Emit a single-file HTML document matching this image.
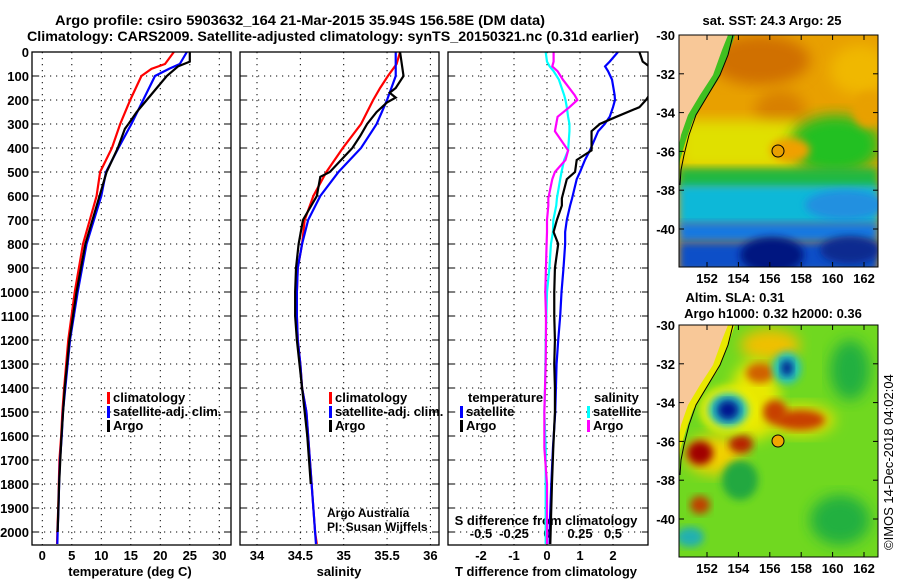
<!DOCTYPE html>
<html><head><meta charset="utf-8"><style>
body{margin:0;background:#fff;}
svg{display:block;font-family:"Liberation Sans",sans-serif;}
.t{font-weight:bold;font-size:13px;fill:#000;}
.ti{font-weight:bold;font-size:14px;fill:#000;}
.grid{stroke:#000;stroke-width:1;stroke-dasharray:1.2,4.8;}
</style></head><body>
<svg id="chart" width="900" height="580" viewBox="0 0 900 580">
<defs>
<filter id="blur" x="-20%" y="-20%" width="140%" height="140%"><feGaussianBlur stdDeviation="7"/></filter>
<filter id="blur2" x="-20%" y="-20%" width="140%" height="140%"><feGaussianBlur stdDeviation="4"/></filter>
<clipPath id="cm1"><rect x="679" y="35" width="199" height="232"/></clipPath>
<clipPath id="cm2"><rect x="679" y="325" width="199" height="232"/></clipPath>
<clipPath id="cp3"><rect x="448" y="52" width="200" height="493"/></clipPath>
</defs>
<text class="ti" x="300" y="25" text-anchor="middle" textLength="490" lengthAdjust="spacingAndGlyphs">Argo profile: csiro 5903632_164 21-Mar-2015 35.94S 156.58E (DM data)</text>
<text class="ti" x="333" y="41" text-anchor="middle" textLength="612" lengthAdjust="spacingAndGlyphs">Climatology: CARS2009. Satellite-adjusted climatology: synTS_20150321.nc (0.31d earlier)</text>

<g id="maps">
<g clip-path="url(#cm1)">
<rect x="679" y="35" width="199" height="232" fill="#e8a000"/>
<ellipse cx="760" cy="60" rx="50" ry="25" fill="#d07000" filter="url(#blur)"/>
<ellipse cx="780" cy="110" rx="25" ry="20" fill="#d88000" filter="url(#blur)"/>
<ellipse cx="860" cy="70" rx="30" ry="25" fill="#f0b800" filter="url(#blur)"/>
<rect x="679" y="120" width="120" height="50" fill="#e0e000" filter="url(#blur)"/>
<ellipse cx="835" cy="145" rx="45" ry="30" fill="#20c020" filter="url(#blur)"/>
<ellipse cx="868" cy="110" rx="15" ry="18" fill="#e8a000" filter="url(#blur2)"/>
<ellipse cx="790" cy="150" rx="20" ry="12" fill="#f0a000" filter="url(#blur2)"/>
<rect x="679" y="168" width="199" height="22" fill="#20b840" filter="url(#blur2)"/>
<rect x="679" y="185" width="199" height="40" fill="#10b8d8" filter="url(#blur2)"/>
<ellipse cx="845" cy="205" rx="40" ry="15" fill="#2090e0" filter="url(#blur2)"/>
<rect x="679" y="222" width="199" height="20" fill="#1878e0" filter="url(#blur2)"/>
<rect x="679" y="242" width="199" height="30" fill="#1050c8" filter="url(#blur2)"/>
<ellipse cx="772" cy="255" rx="32" ry="18" fill="#001880" filter="url(#blur2)"/>
<ellipse cx="850" cy="250" rx="30" ry="14" fill="#0a2a90" filter="url(#blur2)"/>
<polygon points="679,35 735,35 728,55 718,80 705,100 693,120 686,140 680,160 679,175" fill="#40c020"/>
<polygon points="679,35 728,35 722,50 713,75 700,95 688,115 681,135 679,145" fill="#f8c898"/>
<polyline points="733,35 728,55 720,75 708,95 696,115 689,135 684,155 681,170 680,185" fill="none" stroke="#000" stroke-width="1"/>
</g>
<circle cx="778" cy="151" r="6" fill="#e8a000" stroke="#000" stroke-width="1"/>
<rect x="679" y="35" width="199" height="232" fill="none" stroke="#000" stroke-width="1"/>

<g clip-path="url(#cm2)">
<rect x="679" y="325" width="199" height="232" fill="#70d820"/>
<ellipse cx="770" cy="345" rx="30" ry="16" fill="#f0c000" filter="url(#blur)"/>
<ellipse cx="755" cy="400" rx="25" ry="40" fill="#e8e800" filter="url(#blur)"/>
<ellipse cx="760" cy="373" rx="14" ry="10" fill="#d06000" filter="url(#blur2)"/>
<ellipse cx="800" cy="420" rx="35" ry="16" fill="#e0e000" filter="url(#blur)"/>
<ellipse cx="800" cy="420" rx="25" ry="10" fill="#c84000" filter="url(#blur2)"/>
<ellipse cx="775" cy="412" rx="12" ry="12" fill="#c84000" filter="url(#blur2)"/>
<ellipse cx="715" cy="455" rx="30" ry="20" fill="#f0d000" filter="url(#blur)"/>
<ellipse cx="700" cy="453" rx="13" ry="12" fill="#a00000" filter="url(#blur2)"/>
<ellipse cx="741" cy="444" rx="12" ry="9" fill="#b82000" filter="url(#blur2)"/>
<ellipse cx="700" cy="505" rx="10" ry="9" fill="#c04000" filter="url(#blur2)"/>
<ellipse cx="740" cy="480" rx="18" ry="20" fill="#20a840" filter="url(#blur2)"/>
<ellipse cx="850" cy="370" rx="20" ry="30" fill="#20b040" filter="url(#blur)"/>
<ellipse cx="840" cy="520" rx="30" ry="25" fill="#20b040" filter="url(#blur)"/>
<ellipse cx="728" cy="410" rx="28" ry="24" fill="#f0f000" filter="url(#blur2)"/>
<ellipse cx="728" cy="410" rx="20" ry="17" fill="#20c0c0" filter="url(#blur2)"/>
<ellipse cx="728" cy="410" rx="11" ry="10" fill="#001890" filter="url(#blur2)"/>
<ellipse cx="787" cy="368" rx="14" ry="16" fill="#20c0c0" filter="url(#blur2)"/>
<ellipse cx="787" cy="368" rx="6" ry="8" fill="#002090" filter="url(#blur2)"/>
<ellipse cx="690" cy="537" rx="14" ry="10" fill="#20b0b0" filter="url(#blur2)"/>
<polygon points="679,325 735,325 728,345 718,370 705,390 693,410 686,430 680,450 679,465" fill="#e8e800"/>
<polygon points="679,325 728,325 722,340 713,365 700,385 688,405 681,425 679,435" fill="#f8c898"/>
<polyline points="733,325 728,345 720,365 708,385 696,405 689,425 684,445 681,460 680,475" fill="none" stroke="#000" stroke-width="1"/>
</g>
<circle cx="778" cy="441" r="6" fill="#f0a800" stroke="#000" stroke-width="1"/>
<rect x="679" y="325" width="199" height="232" fill="none" stroke="#000" stroke-width="1"/>
<text class="t" x="772" y="25" text-anchor="middle">sat. SST: 24.3 Argo: 25</text>
<text class="t" x="735" y="302" text-anchor="middle">Altim. SLA: 0.31</text>
<text class="t" x="773" y="318" text-anchor="middle">Argo h1000: 0.32 h2000: 0.36</text>
<text x="893" y="550" transform="rotate(-90 893 550)" style="font-size:13px">©IMOS 14-Dec-2018 04:02:04</text>
</g>
<g id="axes"></g>
</svg>
<script>
// Depth levels (dbar) and profiles
const depthT = [0,50,70,100,200,300,400,500,600,800,1000,1200,1400,1500,1600,1700,1800,1900,2000,2050];
const tempClim = [22.3,20.8,18.5,16.8,14.9,13.2,11.8,9.8,9.2,6.9,5.5,4.4,3.7,3.4,3.2,2.9,2.8,2.7,2.55,2.5];
const tempSat = [24.5,23.3,21.5,19.1,17.1,15.1,12.9,10.8,10.0,7.5,6.0,4.7,3.9,3.5,3.3,3.0,2.85,2.75,2.6,2.55];
const depthArgo = [0,40,60,100,150,200,250,300,320,400,500,600,800,1000,1200,1400,1600,1800,2000];
const tempArgo = [25,25,23,21.1,19.4,17.7,16,14.6,14,12.8,10.9,9.7,7.3,5.8,4.6,3.8,3.25,2.85,2.6];
const depthS = [0,50,100,150,200,300,400,500,600,700,800,900,1000,1100,1200,1300,1400,1500,1600,1700,1800,1900,2000,2050];
const salClim = [35.65,35.61,35.51,35.42,35.34,35.2,34.99,34.8,34.65,34.55,34.52,34.47,34.46,34.46,34.47,34.5,34.52,34.57,34.59,34.61,34.63,34.65,34.67,34.69];
const salSat = [35.6,35.6,35.6,35.55,35.5,35.38,35.2,34.94,34.73,34.59,34.52,34.47,34.46,34.46,34.47,34.5,34.52,34.57,34.59,34.61,34.63,34.65,34.67,34.68];
const depthSA = [0,50,100,150,170,190,210,250,300,350,400,500,520,600,700,800,900,1000,1100,1200,1400,1600,1800];
const salArgo = [35.65,35.67,35.69,35.6,35.53,35.6,35.5,35.38,35.27,35.19,35.1,34.84,34.73,34.69,34.53,34.48,34.45,34.44,34.44,34.46,34.52,34.58,34.62];
// Differences from climatology
const depthD = [0,40,60,80,115,180,200,230,270,300,330,410,450,500,530,610,640,700,750,800,900,1000,1100,1200,1300,1400,1500,1650,1800,1950,2050];
const dTsat = [2.15,1.9,1.76,1.85,1.97,2.05,2.06,2.0,1.9,1.75,1.55,1.3,1.15,1.0,0.9,0.76,0.7,0.6,0.55,0.55,0.5,0.44,0.4,0.34,0.29,0.27,0.25,0.18,0.13,0.09,0.08];
const dTargo = [2.8,2.9,3.1,3.2,3.2,3.1,3.0,2.8,2.1,1.6,1.35,1.35,0.9,0.85,0.6,0.45,0.45,0.3,0.2,0.34,0.24,0.22,0.22,0.24,0.22,0.24,0.24,0.19,0.15,0.12,0.1];
const dSsat = [-0.01,0.0,0.02,0.05,0.09,0.13,0.14,0.15,0.16,0.17,0.17,0.16,0.13,0.11,0.1,0.075,0.07,0.048,0.045,0.03,0.018,0.0,-0.005,-0.01,-0.012,-0.015,-0.02,-0.01,-0.01,-0.01,-0.01];
const dSargo = [0.05,0.05,0.04,0.08,0.12,0.21,0.23,0.17,0.08,0.07,0.06,0.16,0.14,0.06,0.04,0.01,0.01,0.0,0.0,-0.003,-0.008,-0.013,-0.008,-0.008,-0.01,-0.015,-0.02,-0.02,0.0,0.0,0.0];
const depthTicks = [0,100,200,300,400,500,600,700,800,900,1000,1100,1200,1300,1400,1500,1600,1700,1800,1900,2000];
const tempTicks = [0,5,10,15,20,25,30];
const salTicks = [34,34.5,35,35.5,36];
const salTickLabels = ["34","34.5","35","35.5","36"];
const dTTicks = [-2,-1,0,1,2];
const dSTicks = [-0.5,-0.25,0,0.25,0.5];
const dSTickLabels = ["-0.5","-0.25","0","0.25","0.5"];
const latTicks = [-30,-32,-34,-36,-38,-40];
const lonTicks = [152,154,156,158,160,162];

const NS="http://www.w3.org/2000/svg";
const g=document.getElementById('axes');
function el(t,a,p){const e=document.createElementNS(NS,t);for(const k in a)e.setAttribute(k,a[k]);(p||g).appendChild(e);return e;}
const yD=d=>52+d*0.24;
const xT=v=>42.3+v*5.9;
const xS=v=>257+(v-34)*86.7;
const xDT=v=>547+v*33;
const xDS=v=>547+v*132;
const P=[{x0:32,x1:231},{x0:240,x1:439},{x0:448,x1:648}];
const T=(x,y,s,anchor,name,cls)=>{const e=el('text',{x:x,y:y,'text-anchor':anchor||'middle',class:cls||'t'});e.textContent=s;

return e;};

// grids
P.forEach((p,i)=>{
  depthTicks.forEach(d=>{const l=el('line',{x1:p.x0,x2:p.x1,y1:yD(d),y2:yD(d),class:'grid'});
  
  
  el('line',{x1:p.x0,x2:p.x0+6,y1:yD(d),y2:yD(d),stroke:'#000'});el('line',{x1:p.x1-6,x2:p.x1,y1:yD(d),y2:yD(d),stroke:'#000'});});
});
tempTicks.forEach(v=>{el('line',{x1:xT(v),x2:xT(v),y1:52,y2:545,class:'grid'});T(xT(v),560,String(v),'middle','temperature-tick-label');});
salTicks.forEach((v,i)=>{el('line',{x1:xS(v),x2:xS(v),y1:52,y2:545,class:'grid'});T(xS(v),560,salTickLabels[i],'middle','salinity-tick-label');});
dTTicks.forEach(v=>{el('line',{x1:xDT(v),x2:xDT(v),y1:52,y2:545,class:'grid'});T(xDT(v),560,String(v),'middle','t-diff-tick-label');});
dSTicks.forEach((v,i)=>{T(xDS(v),538,dSTickLabels[i],'middle','s-diff-tick-label');});
depthTicks.forEach(d=>T(29,yD(d)+5,String(d),'end','depth-tick-label'));
T(130,576,'temperature (deg C)','middle','x-axis-title-temperature');
T(339,576,'salinity','middle','x-axis-title-salinity');
T(546,576,'T difference from climatology','middle','x-axis-title-t-diff');
T(546,525,'S difference from climatology','middle','x-axis-title-s-diff');

function line(xs,ys,fx,color,name,w,clip){
  const pts=xs.map((v,i)=>fx(v)+','+yD(ys[i])).join(' ');
  const a={points:pts,fill:'none',stroke:color,'stroke-width':w||2.2};
  if(clip)a['clip-path']='url(#cp3)';
  const e=el('polyline',a);
  
  
}
line(tempClim,depthT,xT,'#f00','temp-climatology-line');
line(tempSat,depthT,xT,'#00f','temp-satellite-line');
line(tempArgo,depthArgo,xT,'#000','temp-argo-line');
line(salClim,depthS,xS,'#f00','sal-climatology-line');
line(salSat,depthS,xS,'#00f','sal-satellite-line');
line(salArgo,depthSA,xS,'#000','sal-argo-line');
line(dSsat,depthD,xDS,'#0ff','s-diff-satellite-line',2.2,true);
line(dSargo,depthD,xDS,'#f0f','s-diff-argo-line',2.2,true);
line(dTsat,depthD,xDT,'#00f','t-diff-satellite-line',2.2,true);
line(dTargo,depthD,xDT,'#000','t-diff-argo-line',2.2,true);

P.forEach(p=>{const r=el('rect',{x:p.x0,y:52,width:p.x1-p.x0,height:493,fill:'none',stroke:'#000','stroke-width':1.3});

});

function leg(x,y,color,label){el('rect',{x:x,y:y-10,width:3,height:12,fill:color});T(x+6,y,label,'start','legend-entry');}
leg(107,402,'#f00','climatology');leg(107,416,'#00f','satellite-adj. clim.');leg(107,430,'#000','Argo');
leg(329,402,'#f00','climatology');leg(329,416,'#00f','satellite-adj. clim.');leg(329,430,'#000','Argo');
T(468,402,'temperature','start','legend-title-temperature');
leg(460,416,'#00f','satellite');leg(460,430,'#000','Argo');
T(594,402,'salinity','start','legend-title-salinity');
leg(587,416,'#0ff','satellite');leg(587,430,'#f0f','Argo');
const c1=T(327,517,'Argo Australia','start','credit-argo-australia','');c1.setAttribute('style','font-size:12px');
const c2=T(327,531,'PI: Susan Wijffels','start','credit-pi','');c2.setAttribute('style','font-size:12px');

// map axes
[[35,267],[325,557]].forEach(([top,bot])=>{
  latTicks.forEach(v=>{const y=top+(-30-v)*19.4;T(675,y+5,String(v),'end','map-latitude-label');
    el('line',{x1:679,x2:684,y1:y,y2:y,stroke:'#000'});el('line',{x1:873,x2:878,y1:y,y2:y,stroke:'#000'});});
  lonTicks.forEach(v=>{const x=707+(v-152)*15.7;T(x,bot+16,String(v),'middle','map-longitude-label');
    el('line',{x1:x,x2:x,y1:bot-5,y2:bot,stroke:'#000'});el('line',{x1:x,x2:x,y1:top,y2:top+5,stroke:'#000'});});
});
</script>
</body></html>
